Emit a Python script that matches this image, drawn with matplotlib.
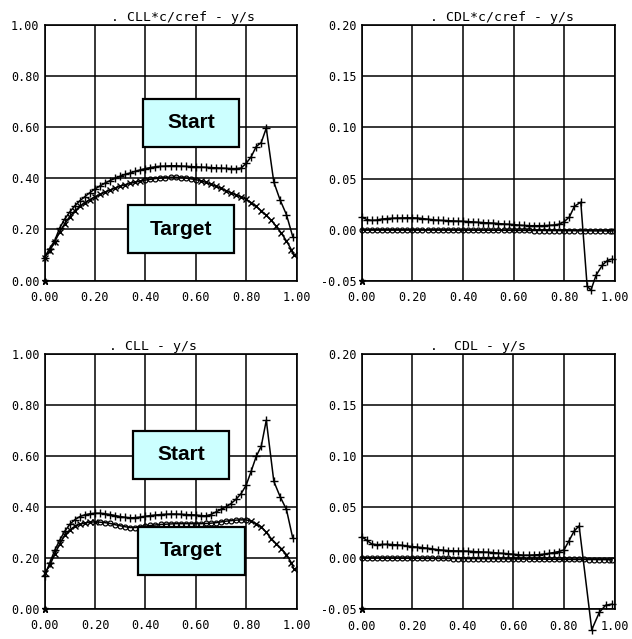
import matplotlib
matplotlib.use("Agg")
import matplotlib.pyplot as plt
from matplotlib.patches import Rectangle

# ---------------------------------------------------------------- data
# spanwise stations y/s
eta_start_cl = [0.00, 0.02, 0.04, 0.06, 0.08, 0.10, 0.12, 0.14, 0.16, 0.18,
                0.20, 0.22, 0.24, 0.26, 0.28, 0.30, 0.32, 0.34, 0.36, 0.38,
                0.40, 0.42, 0.44, 0.46, 0.48, 0.50, 0.52, 0.54, 0.56, 0.58,
                0.60, 0.62, 0.64, 0.66, 0.68, 0.70, 0.72, 0.74, 0.76, 0.78,
                0.80, 0.82, 0.84, 0.86, 0.88, 0.91, 0.935, 0.96, 0.985]
eta_target = [0.00, 0.02, 0.04, 0.06, 0.08, 0.10, 0.12, 0.14, 0.16, 0.18,
              0.20, 0.22, 0.24, 0.26, 0.28, 0.30, 0.32, 0.34, 0.36, 0.38,
              0.40, 0.42, 0.44, 0.46, 0.48, 0.50, 0.52, 0.54, 0.56, 0.58,
              0.60, 0.62, 0.64, 0.66, 0.68, 0.70, 0.72, 0.74, 0.76, 0.78,
              0.80, 0.82, 0.84, 0.86, 0.88, 0.90, 0.92, 0.94, 0.96, 0.98, 0.99]
eta_start_cdc = [0.00, 0.02, 0.04, 0.06, 0.08, 0.10, 0.12, 0.14, 0.16, 0.18,
                 0.20, 0.22, 0.24, 0.26, 0.28, 0.30, 0.32, 0.34, 0.36, 0.38,
                 0.40, 0.42, 0.44, 0.46, 0.48, 0.50, 0.52, 0.54, 0.56, 0.58,
                 0.60, 0.62, 0.64, 0.66, 0.68, 0.70, 0.72, 0.74, 0.76, 0.78,
                 0.80, 0.82, 0.84, 0.865, 0.89, 0.905, 0.925, 0.95, 0.97, 0.99]
eta_start_cd = [0.00, 0.02, 0.04, 0.06, 0.08, 0.10, 0.12, 0.14, 0.16, 0.18,
                0.20, 0.22, 0.24, 0.26, 0.28, 0.30, 0.32, 0.34, 0.36, 0.38,
                0.40, 0.42, 0.44, 0.46, 0.48, 0.50, 0.52, 0.54, 0.56, 0.58,
                0.60, 0.62, 0.64, 0.66, 0.68, 0.70, 0.72, 0.74, 0.76, 0.78,
                0.80, 0.82, 0.84, 0.86, 0.91, 0.94, 0.965, 0.99]

# local lift coefficient times chord ratio
start_cllc = [0.090, 0.125, 0.155, 0.205, 0.240, 0.268, 0.292, 0.312, 0.328, 0.344,
              0.358, 0.370, 0.381, 0.391, 0.400, 0.408, 0.415, 0.421, 0.427, 0.433,
              0.438, 0.442, 0.445, 0.447, 0.448, 0.449, 0.449, 0.448, 0.447, 0.446,
              0.445, 0.444, 0.443, 0.442, 0.441, 0.440, 0.439, 0.438, 0.438, 0.440,
              0.458, 0.484, 0.524, 0.540, 0.596, 0.385, 0.315, 0.258, 0.172]
target_cllc = [0.090, 0.115, 0.150, 0.190, 0.222, 0.250, 0.272, 0.290, 0.305, 0.317,
               0.327, 0.337, 0.346, 0.354, 0.362, 0.369, 0.375, 0.380, 0.385, 0.389,
               0.393, 0.396, 0.399, 0.401, 0.403, 0.404, 0.404, 0.403, 0.401, 0.398,
               0.395, 0.390, 0.384, 0.377, 0.369, 0.361, 0.352, 0.343, 0.335, 0.327,
               0.318, 0.305, 0.290, 0.273, 0.255, 0.235, 0.212, 0.185, 0.155, 0.120, 0.100]

# local induced drag coefficient times chord ratio
start_cdlc = [0.0125, 0.0100, 0.0092, 0.0095, 0.0105, 0.0110, 0.0113, 0.0115, 0.0116, 0.0117,
              0.0117, 0.0115, 0.0110, 0.0104, 0.0098, 0.0094, 0.0091, 0.0089, 0.0087, 0.0085,
              0.0083, 0.0080, 0.0077, 0.0073, 0.0070, 0.0068, 0.0065, 0.0061, 0.0057, 0.0054,
              0.0051, 0.0046, 0.0042, 0.0040, 0.0040, 0.0040, 0.0041, 0.0043, 0.0047, 0.0055,
              0.0080, 0.0126, 0.0230, 0.0270, -0.0550, -0.0590, -0.0445, -0.0345, -0.0300, -0.0285]
target_cdlc = [0.0000, 0.0000, 0.0000, 0.0000, 0.0000, 0.0000, 0.0000, 0.0000, 0.0000, 0.0000,
               0.0000, 0.0000, 0.0000, 0.0000, 0.0000, -0.0001, -0.0001, -0.0001, -0.0001, -0.0002,
               -0.0002, -0.0002, -0.0003, -0.0003, -0.0003, -0.0004, -0.0004, -0.0004, -0.0005, -0.0005,
               -0.0005, -0.0006, -0.0006, -0.0006, -0.0007, -0.0007, -0.0007, -0.0008, -0.0008, -0.0008,
               -0.0009, -0.0009, -0.0009, -0.0010, -0.0010, -0.0010, -0.0011, -0.0011, -0.0011, -0.0012, -0.0012]

# local lift coefficient
start_cll = [0.130, 0.180, 0.230, 0.270, 0.305, 0.332, 0.350, 0.362, 0.369, 0.373,
             0.375, 0.375, 0.373, 0.370, 0.366, 0.362, 0.359, 0.357, 0.358, 0.360,
             0.363, 0.366, 0.368, 0.370, 0.371, 0.372, 0.372, 0.371, 0.370, 0.369,
             0.368, 0.366, 0.365, 0.370, 0.380, 0.390, 0.400, 0.413, 0.430, 0.452,
             0.485, 0.540, 0.598, 0.638, 0.740, 0.500, 0.440, 0.390, 0.278]
target_cll = [0.140, 0.170, 0.215, 0.255, 0.290, 0.310, 0.324, 0.332, 0.337, 0.340,
              0.341, 0.340, 0.338, 0.335, 0.330, 0.326, 0.322, 0.319, 0.319, 0.321,
              0.324, 0.327, 0.329, 0.331, 0.332, 0.333, 0.334, 0.334, 0.334, 0.334,
              0.334, 0.334, 0.335, 0.336, 0.338, 0.341, 0.344, 0.346, 0.348, 0.349,
              0.349, 0.344, 0.334, 0.322, 0.300, 0.275, 0.255, 0.236, 0.213, 0.180, 0.155]

# local induced drag coefficient
start_cdl = [0.0212, 0.0175, 0.0140, 0.0132, 0.0135, 0.0136, 0.0134, 0.0131, 0.0126, 0.0120,
             0.0114, 0.0109, 0.0104, 0.0098, 0.0091, 0.0084, 0.0079, 0.0075, 0.0073, 0.0072,
             0.0071, 0.0069, 0.0066, 0.0063, 0.0061, 0.0059, 0.0055, 0.0051, 0.0047, 0.0043,
             0.0039, 0.0034, 0.0030, 0.0030, 0.0032, 0.0035, 0.0040, 0.0047, 0.0056, 0.0066,
             0.0081, 0.0170, 0.0265, 0.0317, -0.0700, -0.0530, -0.0460, -0.0450]
target_cdl = [0.0003, 0.0003, 0.0002, 0.0002, 0.0002, 0.0001, 0.0001, 0.0001, 0.0000, 0.0000,
              0.0000, 0.0000, -0.0001, -0.0001, -0.0001, -0.0002, -0.0002, -0.0002, -0.0003, -0.0003,
              -0.0003, -0.0004, -0.0004, -0.0004, -0.0005, -0.0005, -0.0005, -0.0006, -0.0006, -0.0007,
              -0.0007, -0.0007, -0.0008, -0.0008, -0.0009, -0.0009, -0.0009, -0.0010, -0.0010, -0.0011,
              -0.0011, -0.0011, -0.0012, -0.0012, -0.0012, -0.0013, -0.0013, -0.0014, -0.0014, -0.0015, -0.0015]

x_ticks = [0.0, 0.2, 0.4, 0.6, 0.8, 1.0]
cl_ticks = [0.0, 0.2, 0.4, 0.6, 0.8, 1.0]
cd_ticks = [-0.05, 0.0, 0.05, 0.10, 0.15, 0.20]

titles = [". CLL*c/cref - y/s", ". CDL*c/cref - y/s", ". CLL - y/s", ".  CDL - y/s"]

# ---------------------------------------------------------------- figure
W, H = 632, 639
fig = plt.figure(figsize=(W / 100, H / 100), dpi=100)
fig.patch.set_facecolor("white")
MONO = "DejaVu Sans Mono"


def px_axes(l, r, t, b):
    return fig.add_axes([l / W, 1 - b / H, (r - l) / W, (b - t) / H])


def style(ax, yticks, title, tx):
    ax.set_xlim(0, 1)
    ax.set_ylim(yticks[0], yticks[-1])
    ax.set_xticks(x_ticks)
    ax.set_yticks(yticks)
    ax.set_xticklabels([f"{v:.2f}" for v in x_ticks], family=MONO, fontsize=8.5)
    ax.set_yticklabels([f"{v:.2f}" for v in yticks], family=MONO, fontsize=8.5)
    ax.tick_params(length=0, pad=3.5)
    ax.tick_params(axis="x", pad=7.5)
    ax.grid(True, color="black", lw=1.1)
    ax.set_axisbelow(True)
    for s in ax.spines.values():
        s.set_linewidth(1.2)
    ax.set_title(title, family=MONO, fontsize=9.5, x=tx, pad=3)
    ax.plot([0], [yticks[0]], marker="*", color="black", ms=5, clip_on=False, zorder=4)


def indices(xs, lo, hi, inside=True):
    return [i for i, v in enumerate(xs) if (lo <= v <= hi) == inside]


line_kw = dict(color="black", lw=1.1, clip_on=False, zorder=3)

# lift panels
cl_panels = [
    (px_axes(44.5, 296.5, 25, 280.5), start_cllc, target_cllc, (0.39, 0.61), titles[0], 0.55),
    (px_axes(44.7, 296.5, 354, 608.8), start_cll, target_cll, (0.21, 0.81), titles[2], 0.43),
]
for ax, st, tg, (lo, hi), title, tx in cl_panels:
    style(ax, cl_ticks, title, tx)
    ax.plot(eta_start_cl, st, marker="+", ms=6, mew=1.0, **line_kw)
    ax.plot(eta_target, tg, marker="x", ms=4.5, mew=1.0,
            markevery=indices(eta_target, lo, hi, inside=False), **line_kw)
    ax.plot(eta_target, tg, ls="none", marker="o", ms=3.5, mew=0.9, mfc="none",
            mec="black", markevery=indices(eta_target, lo, hi), clip_on=False, zorder=3)

# drag panels
cd_panels = [
    (px_axes(361.7, 615, 25, 281), eta_start_cdc, start_cdlc, target_cdlc, titles[1], 0.555),
    (px_axes(361.7, 614.5, 354, 609.3), eta_start_cd, start_cdl, target_cdl, titles[3], 0.46),
]
for ax, xs, st, tg, title, tx in cd_panels:
    style(ax, cd_ticks, title, tx)
    ax.plot(eta_target, tg, marker="o", ms=3.5, mew=0.9, mfc="none", **line_kw)
    ax.plot(xs, st, marker="+", ms=6, mew=1.0, **line_kw)

# annotation boxes
boxes = [
    ("Start", 143, 239, 99, 147),
    ("Target", 128, 234, 205, 253),
    ("Start", 133, 229, 431, 479),
    ("Target", 138, 245, 527, 575),
]
for label, x0, x1, y0, y1 in boxes:
    fig.add_artist(Rectangle((x0 / W, 1 - y1 / H), (x1 - x0) / W, (y1 - y0) / H,
                             transform=fig.transFigure, facecolor="#ccffff",
                             edgecolor="black", lw=1.6, zorder=10))
    fig.text((x0 + x1) / 2 / W, 1 - (y0 + y1) / 2 / H, label, ha="center", va="center",
             fontsize=15, fontweight="bold", family="Liberation Sans", zorder=11)

fig.savefig("out.png", dpi=100, facecolor="white")
